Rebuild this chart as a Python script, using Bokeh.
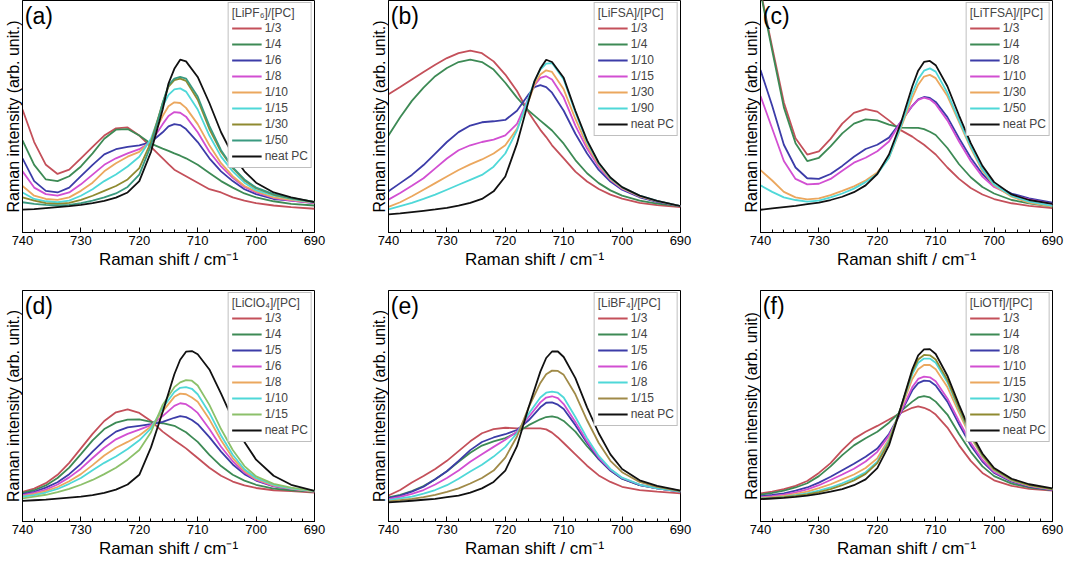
from bokeh.plotting import figure
from bokeh.models import Range1d, FixedTicker, Legend, LegendItem, Label
from bokeh.layouts import column, row
from bokeh.embed import file_html
from bokeh.resources import INLINE

FONT = "Liberation Sans"

XTICKS = [740, 730, 720, 710, 700, 690]
XMINOR = list(range(690, 741, 2))

# ---------------- (a) LiPF6 ----------------
X_A = [740, 738, 736, 734, 732, 730, 728, 726, 724, 722, 720, 718, 716, 715, 714, 713, 712, 710, 708, 706, 704, 702, 700, 697, 694, 690]
A_LABELS = ["1/3", "1/4", "1/6", "1/8", "1/10", "1/15", "1/30", "1/50", "neat PC"]
A_1_3 = [378, 278, 208, 180, 193, 228, 263, 298, 320, 323, 298, 263, 228, 210, 193, 183, 173, 153, 133, 123, 108, 98, 90, 83, 78, 73]
A_1_4 = [283, 208, 163, 158, 173, 203, 243, 288, 316, 318, 298, 273, 258, 251, 243, 236, 228, 208, 183, 158, 138, 120, 108, 96, 88, 83]
A_1_6 = [228, 158, 128, 123, 138, 173, 208, 240, 256, 263, 268, 278, 308, 326, 333, 330, 318, 278, 228, 188, 158, 133, 118, 103, 98, 90]
A_1_8 = [188, 138, 118, 113, 123, 148, 178, 208, 228, 243, 256, 278, 333, 358, 370, 368, 356, 308, 248, 203, 168, 140, 123, 106, 98, 90]
A_1_10 = [143, 113, 103, 100, 108, 128, 153, 188, 213, 233, 248, 283, 358, 388, 400, 398, 383, 333, 268, 213, 173, 143, 126, 108, 100, 92]
A_1_15 = [123, 103, 96, 93, 98, 113, 133, 158, 178, 203, 233, 288, 388, 423, 440, 443, 433, 378, 298, 233, 188, 153, 130, 113, 103, 93]
A_1_30 = [108, 98, 90, 88, 91, 100, 113, 128, 143, 163, 198, 278, 398, 448, 468, 473, 466, 408, 318, 248, 198, 160, 136, 116, 105, 94]
A_1_50 = [93, 88, 85, 83, 85, 90, 98, 108, 120, 140, 178, 268, 398, 453, 473, 478, 473, 418, 328, 253, 200, 163, 138, 118, 106, 94]
A_NEAT = [70, 72, 75, 78, 81, 85, 90, 97, 107, 123, 158, 248, 378, 458, 503, 531, 526, 478, 398, 308, 238, 188, 153, 123, 108, 93]

# ---------------- (b) LiFSA ----------------
X_B = [740, 738, 736, 734, 732, 730, 728, 726, 724, 722, 720, 718, 716, 715, 714, 713, 712, 710, 708, 706, 704, 702, 700, 697, 694, 690]
B_LABELS = ["1/3", "1/4", "1/10", "1/15", "1/30", "1/90", "neat PC"]
B_1_3 = [420, 442, 465, 488, 510, 530, 545, 553, 545, 520, 480, 430, 365, 338, 312, 290, 265, 225, 185, 155, 132, 115, 103, 90, 83, 77]
B_1_4 = [295, 350, 400, 440, 475, 500, 518, 525, 518, 495, 455, 410, 370, 355, 340, 325, 310, 270, 220, 180, 150, 128, 112, 97, 88, 80]
B_1_10 = [125, 150, 175, 205, 240, 275, 305, 325, 335, 338, 342, 370, 420, 442, 448, 442, 425, 370, 300, 240, 190, 155, 130, 107, 93, 80]
B_1_15 = [100, 120, 142, 165, 195, 225, 250, 265, 275, 282, 295, 330, 410, 448, 470, 475, 465, 410, 325, 255, 200, 160, 133, 110, 95, 80]
B_1_30 = [78, 92, 110, 130, 150, 170, 190, 207, 222, 240, 265, 315, 400, 450, 480, 493, 488, 435, 345, 265, 205, 162, 135, 110, 95, 80]
B_1_90 = [70, 80, 90, 102, 115, 130, 145, 160, 175, 200, 240, 310, 410, 460, 495, 513, 515, 465, 365, 275, 210, 165, 137, 112, 96, 80]
B_NEAT = [55, 58, 62, 66, 70, 75, 82, 90, 102, 125, 170, 270, 400, 460, 498, 525, 518, 470, 370, 280, 212, 167, 138, 112, 96, 80]

# ---------------- (c) LiTFSA ----------------
X_C = [740, 738, 736, 734, 732, 730, 728, 726, 724, 722, 720, 718, 716, 714, 713, 712, 711, 710, 708, 706, 704, 702, 700, 697, 694, 690]
C_LABELS = ["1/3", "1/4", "1/8", "1/10", "1/30", "1/50", "neat PC"]
C_1_3 = [745, 570, 400, 290, 240, 250, 288, 335, 368, 380, 372, 345, 315, 295, 282, 270, 255, 240, 200, 165, 137, 117, 103, 90, 82, 75]
C_1_4 = [740, 560, 385, 275, 220, 230, 265, 305, 335, 348, 345, 332, 323, 322, 322, 318, 310, 300, 260, 210, 170, 140, 120, 100, 90, 80]
C_1_8 = [500, 390, 270, 200, 167, 165, 180, 205, 233, 257, 270, 292, 340, 390, 410, 417, 414, 402, 355, 290, 230, 180, 145, 120, 105, 92]
C_1_10 = [420, 320, 220, 165, 148, 150, 165, 190, 215, 230, 250, 280, 340, 390, 408, 415, 410, 395, 345, 280, 220, 172, 140, 115, 102, 88]
C_1_30 = [192, 160, 125, 108, 102, 105, 115, 128, 142, 160, 185, 230, 320, 415, 455, 480, 485, 475, 420, 340, 260, 190, 145, 110, 92, 80]
C_1_50 = [145, 125, 108, 100, 95, 98, 108, 120, 135, 155, 180, 230, 325, 430, 472, 498, 505, 495, 430, 345, 265, 195, 148, 113, 95, 82]
C_NEAT = [70, 74, 78, 82, 87, 92, 100, 110, 124, 145, 180, 240, 335, 450, 498, 525, 528, 515, 450, 360, 275, 205, 155, 117, 100, 88]

# ---------------- (d) LiClO4 ----------------
X_D = [740, 738, 736, 734, 732, 730, 728, 726, 724, 722, 720, 718, 716, 714, 713, 712, 711, 710, 708, 706, 704, 702, 700, 697, 694, 690]
D_LABELS = ["1/3", "1/4", "1/5", "1/6", "1/8", "1/10", "1/15", "neat PC"]
D_1_3 = [92, 102, 119, 145, 182, 227, 272, 312, 339, 348, 337, 312, 279, 252, 240, 227, 212, 197, 167, 142, 124, 112, 104, 97, 94, 90]
D_1_4 = [89, 97, 112, 135, 167, 209, 252, 287, 307, 316, 317, 309, 305, 297, 287, 277, 262, 247, 207, 172, 145, 127, 114, 102, 97, 92]
D_1_5 = [85, 92, 105, 122, 147, 179, 217, 252, 279, 292, 297, 302, 309, 322, 327, 324, 315, 302, 262, 217, 177, 147, 127, 109, 101, 93]
D_1_6 = [82, 89, 99, 115, 137, 164, 197, 229, 255, 272, 285, 299, 327, 359, 367, 364, 352, 337, 287, 232, 187, 152, 129, 110, 101, 93]
D_1_8 = [79, 85, 94, 107, 125, 147, 175, 205, 229, 247, 267, 295, 342, 387, 397, 395, 385, 372, 317, 252, 197, 157, 132, 112, 102, 93]
D_1_10 = [77, 82, 90, 101, 117, 135, 159, 182, 202, 225, 252, 289, 352, 402, 415, 417, 412, 395, 337, 267, 207, 162, 135, 114, 103, 94]
D_1_15 = [72, 77, 83, 91, 101, 114, 129, 147, 167, 192, 222, 277, 362, 417, 432, 439, 437, 422, 362, 287, 222, 172, 140, 117, 105, 95]
D_NEAT = [64, 66, 68, 71, 74, 77, 82, 89, 99, 115, 145, 230, 340, 457, 502, 527, 529, 519, 472, 397, 317, 247, 192, 142, 114, 95]

# ---------------- (e) LiBF4 ----------------
X_E = [740, 738, 736, 734, 732, 730, 728, 726, 724, 722, 720, 718, 716, 714, 713, 712, 711, 710, 708, 706, 704, 702, 700, 697, 694, 690]
E_LABELS = ["1/3", "1/4", "1/5", "1/6", "1/8", "1/15", "neat PC"]
E_1_3 = [80, 97, 120, 140, 162, 187, 217, 247, 272, 285, 289, 287, 287, 287, 284, 274, 259, 242, 207, 172, 142, 122, 107, 97, 92, 87]
E_1_4 = [74, 82, 94, 109, 130, 155, 184, 212, 234, 247, 257, 274, 297, 315, 322, 324, 320, 310, 277, 232, 192, 157, 132, 112, 102, 92]
E_1_5 = [72, 80, 92, 107, 130, 155, 187, 220, 245, 259, 269, 282, 312, 352, 366, 367, 360, 347, 297, 242, 192, 157, 132, 112, 102, 92]
E_1_6 = [69, 76, 85, 97, 114, 134, 157, 184, 207, 230, 252, 277, 322, 367, 382, 386, 380, 362, 307, 247, 197, 160, 134, 114, 102, 92]
E_1_8 = [66, 71, 77, 86, 97, 112, 132, 154, 175, 200, 230, 272, 332, 382, 397, 400, 397, 382, 322, 257, 202, 162, 135, 114, 102, 92]
E_1_15 = [62, 66, 70, 75, 82, 91, 102, 117, 134, 157, 197, 262, 352, 427, 454, 465, 464, 452, 392, 312, 242, 187, 152, 122, 107, 94]
E_NEAT = [59, 61, 64, 67, 70, 75, 80, 89, 102, 122, 157, 232, 352, 462, 504, 524, 524, 507, 442, 352, 272, 207, 162, 127, 110, 95]

# ---------------- (f) LiOTf ----------------
X_F = [740, 738, 736, 734, 732, 730, 728, 726, 724, 722, 720, 718, 716, 714, 713, 712, 711, 710, 708, 706, 704, 702, 700, 697, 694, 690]
F_LABELS = ["1/3", "1/4", "1/8", "1/10", "1/15", "1/30", "1/50", "neat PC"]
F_1_3 = [87, 92, 100, 110, 125, 150, 180, 220, 255, 277, 295, 315, 335, 351, 355, 351, 343, 330, 290, 235, 187, 150, 127, 110, 101, 95]
F_1_4 = [83, 88, 95, 105, 118, 140, 170, 205, 235, 257, 277, 305, 340, 370, 383, 387, 383, 370, 330, 270, 215, 170, 140, 117, 105, 97]
F_1_8 = [78, 82, 87, 95, 105, 120, 138, 158, 178, 200, 225, 270, 335, 405, 427, 435, 433, 420, 370, 300, 235, 185, 150, 123, 108, 97]
F_1_10 = [75, 78, 83, 90, 99, 112, 128, 145, 163, 185, 215, 265, 337, 415, 440, 447, 445, 433, 380, 310, 243, 190, 153, 125, 110, 98]
F_1_15 = [73, 75, 79, 85, 92, 103, 115, 130, 145, 165, 195, 255, 345, 440, 470, 483, 483, 470, 415, 335, 260, 200, 158, 127, 111, 99]
F_1_30 = [71, 73, 76, 81, 87, 95, 105, 118, 133, 152, 185, 250, 350, 455, 490, 503, 503, 490, 430, 345, 265, 203, 160, 128, 112, 100]
F_1_50 = [70, 72, 75, 79, 84, 91, 100, 112, 127, 147, 180, 245, 350, 463, 500, 514, 513, 500, 437, 350, 267, 205, 161, 129, 112, 100]
F_NEAT = [69, 71, 73, 76, 80, 85, 92, 100, 112, 130, 165, 235, 350, 470, 513, 531, 532, 517, 450, 360, 275, 210, 165, 132, 115, 102]

# colours
RED = "#c4505a"
GREEN = "#3d8a55"
NAVY = "#3c3ca8"
MAGENTA = "#d24fd2"
ORANGE = "#eba75e"
CYAN = "#4fd8d8"
OLIVE = "#8f8a30"
TEAL = "#3a9a80"
LGREEN = "#8cc06a"
OBROWN = "#a08a48"
BLACK = "#111111"

PANELS = [
    dict(tag="(a)", title="[LiPF\u2086]/[PC]", x=X_A, labels=A_LABELS,
         ys=[A_1_3, A_1_4, A_1_6, A_1_8, A_1_10, A_1_15, A_1_30, A_1_50, A_NEAT],
         colors=[RED, GREEN, NAVY, MAGENTA, ORANGE, CYAN, OLIVE, TEAL, BLACK],
         ymax=713, ylabel="Raman intensity (arb. unit.)"),
    dict(tag="(b)", title="[LiFSA]/[PC]", x=X_B, labels=B_LABELS,
         ys=[B_1_3, B_1_4, B_1_10, B_1_15, B_1_30, B_1_90, B_NEAT],
         colors=[RED, GREEN, NAVY, MAGENTA, ORANGE, CYAN, BLACK],
         ymax=705, ylabel="Raman intensity (arb. unit.)"),
    dict(tag="(c)", title="[LiTFSA]/[PC]", x=X_C, labels=C_LABELS,
         ys=[C_1_3, C_1_4, C_1_8, C_1_10, C_1_30, C_1_50, C_NEAT],
         colors=[RED, GREEN, NAVY, MAGENTA, ORANGE, CYAN, BLACK],
         ymax=714, ylabel="Raman intensity (arb. unit.)"),
    dict(tag="(d)", title="[LiClO\u2084]/[PC]", x=X_D, labels=D_LABELS,
         ys=[D_1_3, D_1_4, D_1_5, D_1_6, D_1_8, D_1_10, D_1_15, D_NEAT],
         colors=[RED, GREEN, NAVY, MAGENTA, ORANGE, CYAN, LGREEN, BLACK],
         ymax=717, ylabel="Raman intensity (arb. unit.)"),
    dict(tag="(e)", title="[LiBF\u2084]/[PC]", x=X_E, labels=E_LABELS,
         ys=[E_1_3, E_1_4, E_1_5, E_1_6, E_1_8, E_1_15, E_NEAT],
         colors=[RED, GREEN, NAVY, MAGENTA, CYAN, OBROWN, BLACK],
         ymax=712, ylabel="Raman intensity (arb. unit.)"),
    dict(tag="(f)", title="[LiOTf]/[PC]", x=X_F, labels=F_LABELS,
         ys=[F_1_3, F_1_4, F_1_8, F_1_10, F_1_15, F_1_30, F_1_50, F_NEAT],
         colors=[RED, GREEN, NAVY, MAGENTA, ORANGE, CYAN, OLIVE, BLACK],
         ymax=713, ylabel="Raman intensity (arb. unit)"),
]

# layout geometry per column: (left border, frame width, right border)
COLS = [(22, 292, 30), (44, 292, 26), (54, 292, 12)]
ROWS = [dict(height=278, top=0, bottom=46), dict(height=285, top=12, bottom=42)]


def make_panel(spec, col, rw):
    lb, fw, rb = COLS[col]
    geom = ROWS[rw]
    p = figure(width=lb + fw + rb, height=geom["height"], output_backend="svg",
               toolbar_location=None, tools="",
               x_range=Range1d(740, 690), y_range=Range1d(0, spec["ymax"]),
               min_border_left=lb, min_border_right=rb,
               min_border_top=geom["top"], min_border_bottom=geom["bottom"])
    p.background_fill_color = "white"
    p.border_fill_color = "white"
    p.outline_line_color = "black"
    p.outline_line_width = 1
    p.xgrid.visible = False
    p.ygrid.visible = False

    xa = p.xaxis[0]
    xa.ticker = FixedTicker(ticks=XTICKS, minor_ticks=XMINOR)
    xa.major_tick_in = 5
    xa.major_tick_out = 0
    xa.minor_tick_in = 3
    xa.minor_tick_out = 0
    xa.axis_line_color = "black"
    xa.major_tick_line_color = "black"
    xa.minor_tick_line_color = "black"
    xa.major_label_text_font = FONT
    xa.major_label_text_font_size = "13px"
    xa.major_label_text_color = "black"
    xa.major_label_standoff = 3
    xa.axis_label = "Raman shift / cm\u207b\u00b9"
    xa.axis_label_text_font = FONT
    xa.axis_label_text_font_size = "17px"
    xa.axis_label_text_font_style = "normal"
    xa.axis_label_text_color = "black"
    xa.axis_label_standoff = 2

    ya = p.yaxis[0]
    ya.ticker = FixedTicker(ticks=[])
    ya.major_tick_in = 0
    ya.major_tick_out = 0
    ya.minor_tick_in = 0
    ya.minor_tick_out = 0
    ya.major_label_text_font_size = "0px"
    ya.axis_line_color = "black"
    ya.axis_label = spec["ylabel"]
    ya.axis_label_text_font = FONT
    ya.axis_label_text_font_size = "16px"
    ya.axis_label_text_font_style = "normal"
    ya.axis_label_text_color = "black"
    ya.axis_label_standoff = 1

    items = []
    for lab, yv, c in zip(spec["labels"], spec["ys"], spec["colors"]):
        r = p.line(spec["x"], yv, line_color=c, line_width=1.8)
        items.append(LegendItem(label=lab, renderers=[r]))

    leg = Legend(items=items, location="top_right", title=spec["title"])
    leg.title_text_font = FONT
    leg.title_text_font_size = "12px"
    leg.title_text_font_style = "normal"
    leg.title_standoff = 0
    leg.label_text_font = FONT
    leg.label_text_font_size = "12px"
    leg.label_height = 16
    leg.glyph_height = 16
    leg.glyph_width = 30
    leg.label_standoff = 3
    leg.spacing = 0
    leg.padding = 3
    leg.margin = 2
    leg.border_line_color = "#808080"
    leg.border_line_width = 1
    leg.background_fill_color = "white"
    leg.background_fill_alpha = 1
    p.add_layout(leg)

    p.add_layout(Label(x=739.6, y=spec["ymax"] * 0.99, text=spec["tag"],
                       text_font=FONT, text_font_size="23px",
                       text_baseline="top", text_align="left", text_color="black"))
    return p


figs = []
for i, spec in enumerate(PANELS):
    figs.append(make_panel(spec, i % 3, i // 3))

layout = column(row(figs[0], figs[1], figs[2]), row(figs[3], figs[4], figs[5]))

with open("out.html", "w") as fh:
    fh.write(file_html(layout, INLINE, "Raman spectra"))
